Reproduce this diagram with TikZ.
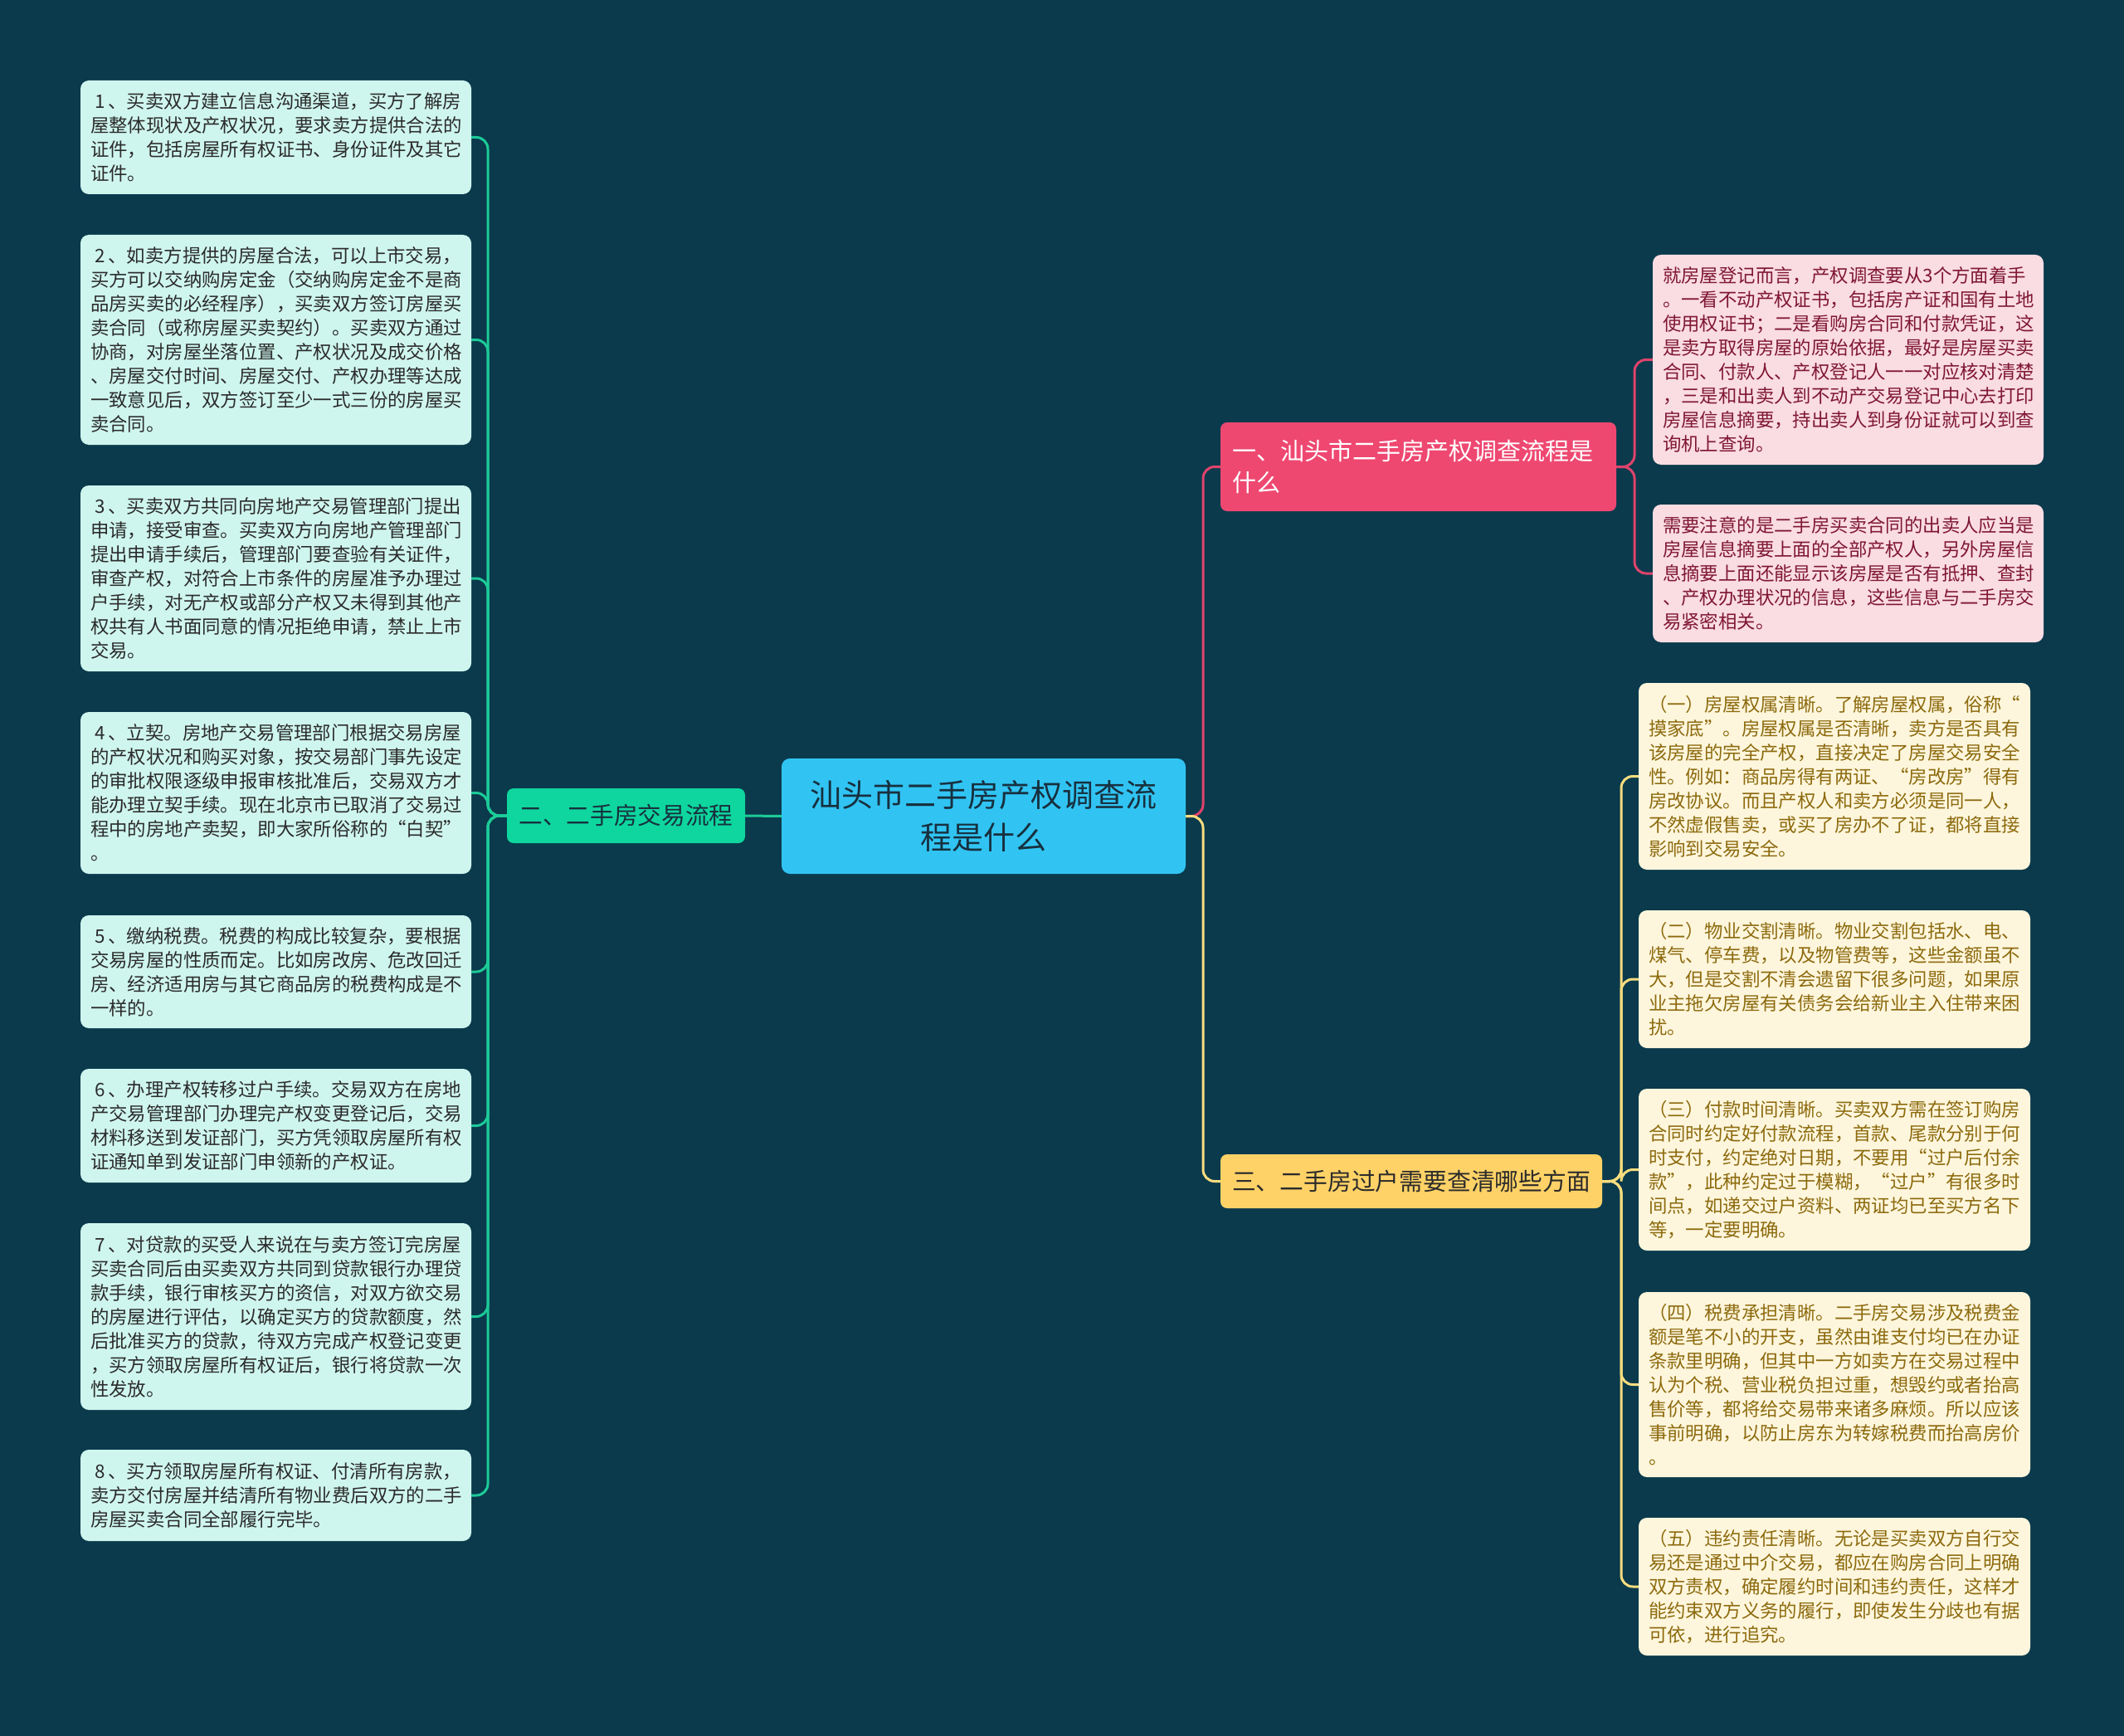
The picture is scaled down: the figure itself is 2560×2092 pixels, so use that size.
\documentclass[tikz,border=0pt]{standalone}
\usepackage{fontspec}
\setmainfont{Noto Sans CJK SC}
\definecolor{bg}{HTML}{0A3A4C}
\definecolor{mint}{HTML}{CFF6EE}
\definecolor{gbranch}{HTML}{0ED69E}
\definecolor{gline}{HTML}{1CCB98}
\definecolor{cblue}{HTML}{31C4F3}
\definecolor{pbranch}{HTML}{EE4871}
\definecolor{pline}{HTML}{E0436C}
\definecolor{pleaf}{HTML}{FADCE3}
\definecolor{ptext}{HTML}{7F1734}
\definecolor{ybranch}{HTML}{FFD267}
\definecolor{yline}{HTML}{F9DD7E}
\definecolor{yleaf}{HTML}{FEF6DC}
\definecolor{ytext}{HTML}{8C6A0E}
\definecolor{dtext}{HTML}{2B2B2B}
\definecolor{ctext}{HTML}{17303F}
\newcommand{\numlead}[1]{\hspace*{5pt}#1\hspace{4pt}、}
\tikzset{
  leafbase/.style={rounded corners=10pt, align=left, inner xsep=12pt, inner ysep=0pt,
    font=\fontsize{22.4}{29}\selectfont},
  leafL/.style={leafbase, fill=mint, text=dtext, text width=447pt},
  leafP/.style={leafbase, fill=pleaf, text=ptext, text width=447pt},
  leafY/.style={leafbase, fill=yleaf, text=ytext, text width=448pt},
  conn/.style={line width=3pt, rounded corners=14pt},
}
\begin{document}
\begin{tikzpicture}[x=1pt,y=-1pt]
\fill[bg] (0,0) rectangle (2560,2092);
\useasboundingbox (0,0) rectangle (2560,2092);

% center
\node[fill=cblue, rounded corners=10pt, minimum width=487pt, minimum height=139pt, inner sep=0pt,
  align=center, text=ctext, font=\fontsize{38}{50.5}\selectfont] (c) at (1185.5,983.5)
  {汕头市二手房产权调查流\\程是什么};

% branches
\node[fill=gbranch, rounded corners=8pt, minimum width=287pt, minimum height=66pt, inner sep=0pt,
  text=ctext, font=\fontsize{28.7}{36}\selectfont] (gb) at (754.5,983) {二、二手房交易流程};
\node[fill=pbranch, rounded corners=8pt, minimum height=107pt, inner xsep=14pt, inner ysep=0pt,
  text width=449pt, align=left, text=white, font=\fontsize{29}{37.5}\selectfont] (pb) at (1709.5,562.5)
  {一、汕头市二手房产权调查流程是\\什么};
\node[fill=ybranch, rounded corners=8pt, minimum width=460pt, minimum height=65pt, inner sep=0pt,
  text=dtext, font=\fontsize{28.8}{36}\selectfont] (yb) at (1701,1423.5) {三、二手房过户需要查清哪些方面};

% left leaves
\node[leafL, minimum height=137pt] (b1) at (332.5,165.5) {\numlead{1}买卖双方建立信息沟通渠道，买方了解房\\屋整体现状及产权状况，要求卖方提供合法的\\证件，包括房屋所有权证书、身份证件及其它\\证件。};
\node[leafL, minimum height=253pt] (b2) at (332.5,409.5) {\numlead{2}如卖方提供的房屋合法，可以上市交易，\\买方可以交纳购房定金（交纳购房定金不是商\\品房买卖的必经程序），买卖双方签订房屋买\\卖合同（或称房屋买卖契约）。买卖双方通过\\协商，对房屋坐落位置、产权状况及成交价格\\、房屋交付时间、房屋交付、产权办理等达成\\一致意见后，双方签订至少一式三份的房屋买\\卖合同。};
\node[leafL, minimum height=224pt] (b3) at (332.5,697) {\numlead{3}买卖双方共同向房地产交易管理部门提出\\申请，接受审查。买卖双方向房地产管理部门\\提出申请手续后，管理部门要查验有关证件，\\审查产权，对符合上市条件的房屋准予办理过\\户手续，对无产权或部分产权又未得到其他产\\权共有人书面同意的情况拒绝申请，禁止上市\\交易。};
\node[leafL, minimum height=195pt] (b4) at (332.5,955.5) {\numlead{4}立契。房地产交易管理部门根据交易房屋\\的产权状况和购买对象，按交易部门事先设定\\的审批权限逐级申报审核批准后，交易双方才\\能办理立契手续。现在北京市已取消了交易过\\程中的房地产卖契，即大家所俗称的“白契”\\。};
\node[leafL, minimum height=136pt] (b5) at (332.5,1171) {\numlead{5}缴纳税费。税费的构成比较复杂，要根据\\交易房屋的性质而定。比如房改房、危改回迁\\房、经济适用房与其它商品房的税费构成是不\\一样的。};
\node[leafL, minimum height=137pt] (b6) at (332.5,1356.5) {\numlead{6}办理产权转移过户手续。交易双方在房地\\产交易管理部门办理完产权变更登记后，交易\\材料移送到发证部门，买方凭领取房屋所有权\\证通知单到发证部门申领新的产权证。};
\node[leafL, minimum height=225pt] (b7) at (332.5,1586.5) {\numlead{7}对贷款的买受人来说在与卖方签订完房屋\\买卖合同后由买卖双方共同到贷款银行办理贷\\款手续，银行审核买方的资信，对双方欲交易\\的房屋进行评估，以确定买方的贷款额度，然\\后批准买方的贷款，待双方完成产权登记变更\\，买方领取房屋所有权证后，银行将贷款一次\\性发放。};
\node[leafL, minimum height=110pt] (b8) at (332.5,1802) {\numlead{8}买方领取房屋所有权证、付清所有房款，\\卖方交付房屋并结清所有物业费后双方的二手\\房屋买卖合同全部履行完毕。};

% pink leaves
\node[leafP, minimum height=253pt] (p1) at (2227.5,433.5) {就房屋登记而言，产权调查要从3个方面着手\\。一看不动产权证书，包括房产证和国有土地\\使用权证书；二是看购房合同和付款凭证，这\\是卖方取得房屋的原始依据，最好是房屋买卖\\合同、付款人、产权登记人一一对应核对清楚\\，三是和出卖人到不动产交易登记中心去打印\\房屋信息摘要，持出卖人到身份证就可以到查\\询机上查询。};
\node[leafP, minimum height=166pt] (p2) at (2227.5,691) {需要注意的是二手房买卖合同的出卖人应当是\\房屋信息摘要上面的全部产权人，另外房屋信\\息摘要上面还能显示该房屋是否有抵押、查封\\、产权办理状况的信息，这些信息与二手房交\\易紧密相关。};

% yellow leaves
\node[leafY, minimum height=225pt] (y1) at (2211,935.5) {（一）房屋权属清晰。了解房屋权属，俗称“\\摸家底”。房屋权属是否清晰，卖方是否具有\\该房屋的完全产权，直接决定了房屋交易安全\\性。例如：商品房得有两证、“房改房”得有\\房改协议。而且产权人和卖方必须是同一人，\\不然虚假售卖，或买了房办不了证，都将直接\\影响到交易安全。};
\node[leafY, minimum height=166pt] (y2) at (2211,1180) {（二）物业交割清晰。物业交割包括水、电、\\煤气、停车费，以及物管费等，这些金额虽不\\大，但是交割不清会遗留下很多问题，如果原\\业主拖欠房屋有关债务会给新业主入住带来困\\扰。};
\node[leafY, minimum height=195pt] (y3) at (2211,1409.5) {（三）付款时间清晰。买卖双方需在签订购房\\合同时约定好付款流程，首款、尾款分别于何\\时支付，约定绝对日期，不要用“过户后付余\\款”，此种约定过于模糊，“过户”有很多时\\间点，如递交过户资料、两证均已至买方名下\\等，一定要明确。};
\node[leafY, minimum height=223pt] (y4) at (2211,1668.5) {（四）税费承担清晰。二手房交易涉及税费金\\额是笔不小的开支，虽然由谁支付均已在办证\\条款里明确，但其中一方如卖方在交易过程中\\认为个税、营业税负担过重，想毁约或者抬高\\售价等，都将给交易带来诸多麻烦。所以应该\\事前明确，以防止房东为转嫁税费而抬高房价\\。};
\node[leafY, minimum height=166pt] (y5) at (2211,1912) {（五）违约责任清晰。无论是买卖双方自行交\\易还是通过中介交易，都应在购房合同上明确\\双方责权，确定履约时间和违约责任，这样才\\能约束双方义务的履行，即使发生分歧也有据\\可依，进行追究。};

% junctions
\coordinate (jL) at (588,983);
\coordinate (jR) at (1450,983.5);
\coordinate (jP) at (1970,562.5);
\coordinate (jY) at (1954,1423.5);

% connectors
\foreach \n in {b1,b2,b3,b4,b5,b6,b7,b8}
  \draw[conn, gline] (gb.west) -- (jL) |- (\n.east);
\draw[conn, gline] (c.west) -- (gb.east);
\draw[conn, pline] (c.east) -- (jR) |- (pb.west);
\draw[conn, yline] (c.east) -- (jR) |- (yb.west);
\foreach \n in {p1,p2}
  \draw[conn, pline] (pb.east) -- (jP) |- (\n.west);
\foreach \n in {y1,y2,y3,y4,y5}
  \draw[conn, yline] (yb.east) -- (jY) |- (\n.west);
\end{tikzpicture}
\end{document}
